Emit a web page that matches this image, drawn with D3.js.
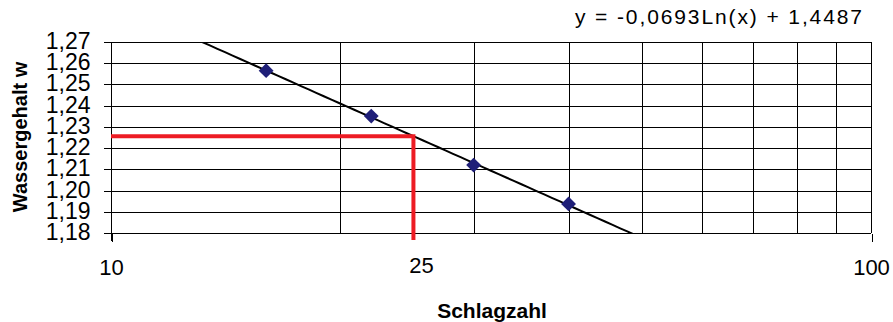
<!DOCTYPE html>
<html>
<head>
<meta charset="utf-8">
<script src="https://cdn.jsdelivr.net/npm/d3@7"></script>
<style>
  html, body { margin: 0; padding: 0; background: #fff; }
  svg { display: block; font-family: "Liberation Sans", Arial, sans-serif; }
</style>
</head>
<body>
<svg id="chart" width="893" height="322"></svg>
<script>
// Schlagzahl (number of blows) and measured water content
const schlagzahl = [16, 22, 30, 40];
const wassergehalt = [1.2565, 1.2351, 1.2120, 1.1937];

// Logarithmic trendline coefficients: y = a*ln(x) + b
const trendA = -0.0693;
const trendB = 1.4487;

// Reading at 25 blows
const readX = 25;

// Axis ticks
const xTickValues = [10, 100];
const xGridValues = [10, 20, 30, 40, 50, 60, 70, 80, 90, 100];
const yTickValues = [1.18, 1.19, 1.20, 1.21, 1.22, 1.23, 1.24, 1.25, 1.26, 1.27];

const svg = d3.select("#chart");
const plotLeft = 111, plotRight = 871, plotTop = 42, plotBottom = 233;

const x = d3.scaleLog().domain([10, 100]).range([plotLeft, plotRight]);
const y = d3.scaleLinear().domain([1.18, 1.27]).range([plotBottom, plotTop]);
const fmtY = v => d3.format(".2f")(v).replace(".", ",");
const trend = v => trendA * Math.log(v) + trendB;

svg.append("defs").append("clipPath").attr("id", "plotClip")
  .append("rect").attr("x", plotLeft).attr("y", plotTop)
  .attr("width", plotRight - plotLeft).attr("height", plotBottom - plotTop);

// Grid
const grid = svg.append("g").attr("shape-rendering", "crispEdges");
grid.selectAll("line.h").data(yTickValues).join("line")
  .attr("x1", plotLeft).attr("x2", plotRight)
  .attr("y1", d => Math.round(y(d)) + 0.5).attr("y2", d => Math.round(y(d)) + 0.5)
  .attr("stroke", "#000").attr("stroke-width", 1);
grid.selectAll("line.v").data(xGridValues).join("line")
  .attr("x1", d => Math.round(x(d)) + 0.5).attr("x2", d => Math.round(x(d)) + 0.5)
  .attr("y1", plotTop).attr("y2", plotBottom)
  .attr("stroke", "#000").attr("stroke-width", 1);

// Y axis
const yAxis = d3.axisLeft(y).tickValues(yTickValues).tickFormat(fmtY)
  .tickSizeInner(8).tickSizeOuter(0).tickPadding(13);
const gy = svg.append("g").attr("transform", `translate(${plotLeft + 0.5},0)`).call(yAxis);
gy.select(".domain").remove();
gy.selectAll("line").attr("stroke", "#000").attr("shape-rendering", "crispEdges");
gy.selectAll("text").attr("font-size", 23).attr("fill", "#000")
  .attr("font-family", "Liberation Sans, Arial, sans-serif").attr("dy", "0.28em");
svg.append("line").attr("x1", plotLeft + 0.5).attr("x2", plotLeft + 0.5)
  .attr("y1", plotTop).attr("y2", plotBottom + 8).attr("stroke", "#000")
  .attr("shape-rendering", "crispEdges");

// X axis
const xAxis = d3.axisBottom(x).tickValues(xTickValues).tickFormat(d3.format("d"))
  .tickSizeInner(8).tickSizeOuter(0).tickPadding(18);
const gx = svg.append("g").attr("transform", `translate(0,${plotBottom + 0.5})`).call(xAxis);
gx.select(".domain").remove();
gx.selectAll("line").attr("stroke", "#000").attr("shape-rendering", "crispEdges")
  .attr("transform", d => `translate(${Math.round(x(d)) + 0.5 - x(d)},0)`);
gx.selectAll("text").attr("font-size", 22).attr("fill", "#000")
  .attr("font-family", "Liberation Sans, Arial, sans-serif");

// Trendline
const trendXs = d3.range(0, 101).map(i => 10 * Math.pow(10, i / 100));
svg.append("path")
  .attr("clip-path", "url(#plotClip)")
  .attr("d", d3.line().x(d => x(d)).y(d => y(trend(d)))(trendXs))
  .attr("fill", "none").attr("stroke", "#000").attr("stroke-width", 2);

// Reading lines at 25 blows
const readY = trend(readX);
svg.append("path")
  .attr("d", d3.line()([[x(10), y(readY)], [x(readX), y(readY)], [x(readX), plotBottom + 7]]))
  .attr("fill", "none").attr("stroke", "#ED1C24").attr("stroke-width", 4)
  .attr("stroke-linejoin", "miter");
svg.append("text").attr("x", x(readX) + 8).attr("y", 273)
  .attr("text-anchor", "middle").attr("font-size", 22).attr("fill", "#000")
  .text(readX);

// Data points (diamonds)
svg.append("g").selectAll("path").data(schlagzahl).join("path")
  .attr("d", d3.symbol(d3.symbolSquare, 110)())
  .attr("transform", (d, i) => `translate(${x(d)},${y(wassergehalt[i])}) rotate(45)`)
  .attr("fill", "#1F1F78");

// Trendline equation
svg.append("text").attr("x", 862).attr("y", 24).attr("text-anchor", "end")
  .attr("font-size", 21).attr("textLength", 287).attr("lengthAdjust", "spacing")
  .attr("fill", "#000").text("y = -0,0693Ln(x) + 1,4487");

// Axis titles
svg.append("text").attr("transform", "translate(27,137) rotate(-90)")
  .attr("text-anchor", "middle").attr("font-size", 20).attr("font-weight", "bold")
  .attr("fill", "#000").text("Wassergehalt w");
svg.append("text").attr("x", 492).attr("y", 318)
  .attr("text-anchor", "middle").attr("font-size", 21).attr("font-weight", "bold")
  .attr("fill", "#000").text("Schlagzahl");
</script>
</body>
</html>
